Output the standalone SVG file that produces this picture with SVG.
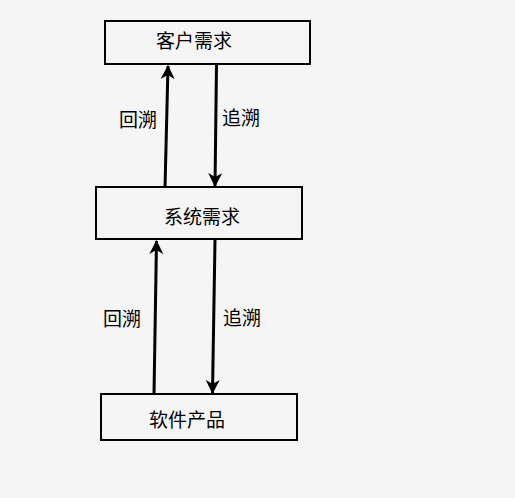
<svg xmlns="http://www.w3.org/2000/svg" width="515" height="498" viewBox="0 0 515 498">
<style>
.box{fill:#f5f5f5;stroke:#000;stroke-width:2}
.t{font-family:"Noto Sans CJK SC","Noto Sans",sans-serif;font-size:19px;fill:#000;text-anchor:middle;dominant-baseline:central}
.c{stroke:#000;stroke-width:3;fill:none}
</style>
<defs>
<marker id="ah" markerUnits="userSpaceOnUse" markerWidth="14" markerHeight="16" viewBox="0 0 14 16" refX="13" refY="7" orient="auto">
<path d="M0,0 L14,7 L0,14 L4,7 Z" fill="#000"/>
</marker>
</defs>
<rect width="515" height="498" fill="#f5f5f5"/>
<g id="n1"><rect class="box" x="105" y="21" width="205" height="43"/><text class="t" x="194" y="39.5">客户需求</text></g>
<g id="n2"><rect class="box" x="96" y="187" width="206" height="52"/><text class="t" x="202" y="215.5">系统需求</text></g>
<g id="n3"><rect class="box" x="101" y="394" width="196" height="46"/><text class="t" x="187" y="418.5">软件产品</text></g>
<g id="connectors">
<line class="c" x1="165" y1="188" x2="168" y2="66" marker-end="url(#ah)"/>
<line class="c" x1="216.5" y1="65" x2="215" y2="186" marker-end="url(#ah)"/>
<line class="c" x1="154" y1="395" x2="156.5" y2="241" marker-end="url(#ah)"/>
<line class="c" x1="215" y1="240" x2="212.5" y2="393" marker-end="url(#ah)"/>
<text class="t" x="138" y="118.5">回溯</text>
<text class="t" x="241" y="116.5">追溯</text>
<text class="t" x="122" y="317.5">回溯</text>
<text class="t" x="242" y="316.5">追溯</text>
</g>
</svg>
